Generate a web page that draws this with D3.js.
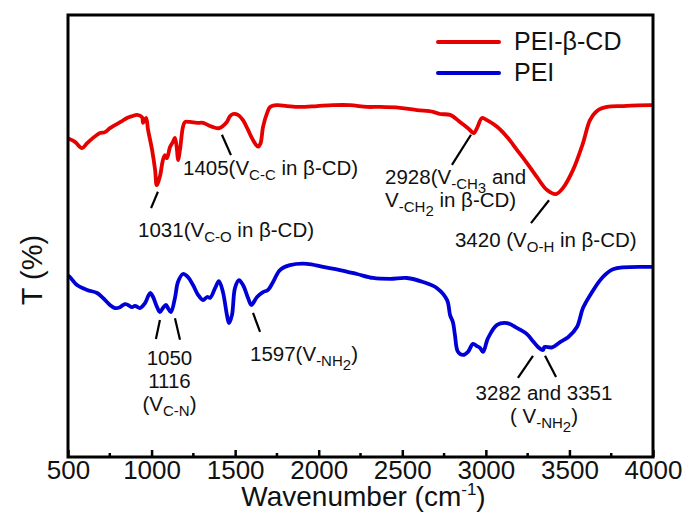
<!DOCTYPE html>
<html>
<head>
<meta charset="utf-8">
<script src="https://cdn.jsdelivr.net/npm/d3@7"></script>
<style>
  html, body { margin: 0; padding: 0; background: #fff; }
  svg text { font-family: "Liberation Sans", Arial, sans-serif; fill: #111; }
</style>
</head>
<body>
<svg id="chart" width="686" height="522"></svg>
<script>
// FTIR spectra: transmittance (arbitrary %, curves offset) vs wavenumber
const seriesNames = ["PEI-β-CD", "PEI"];
const seriesColors = ["#e60000", "#0000d6"];

const peiCdWavenumber = [500, 512, 542, 584, 614, 650, 691, 721, 751, 781, 823, 853, 883, 913, 943, 949, 967, 979, 1003, 1021, 1031, 1050, 1068, 1080, 1092, 1110, 1128, 1140, 1152, 1158, 1170, 1188, 1200, 1230, 1272, 1308, 1350, 1391, 1405, 1427, 1451, 1469, 1487, 1517, 1547, 1577, 1607, 1637, 1652, 1667, 1691, 1709, 1750, 1810, 1888, 1990, 2085, 2187, 2289, 2367, 2486, 2588, 2684, 2726, 2786, 2845, 2893, 2928, 2947, 2977, 3007, 3067, 3127, 3186, 3246, 3306, 3366, 3420, 3462, 3521, 3581, 3623, 3665, 3725, 3821, 3982, 4000];
const peiCdT = [72.0, 71.9, 71.3, 69.9, 71.0, 72.2, 73.3, 73.5, 74.4, 75.1, 76.0, 76.7, 77.1, 77.4, 76.9, 75.6, 76.7, 74.0, 69.5, 65.0, 61.5, 63.5, 67.2, 68.3, 67.6, 70.1, 71.3, 72.2, 69.5, 67.2, 69.5, 74.7, 75.8, 75.8, 75.6, 75.6, 74.9, 74.4, 74.4, 74.9, 75.8, 77.1, 77.6, 77.4, 76.2, 74.0, 71.7, 70.2, 71.0, 74.7, 77.8, 79.2, 79.6, 79.4, 79.2, 79.4, 79.6, 79.6, 79.2, 79.2, 79.0, 78.5, 78.1, 77.6, 77.4, 75.8, 74.4, 73.3, 74.4, 76.7, 76.2, 74.7, 72.4, 69.5, 66.5, 63.3, 60.4, 59.5, 60.9, 64.9, 71.0, 76.2, 78.3, 79.2, 79.4, 79.6, 79.6];

const peiWavenumber = [500, 512, 554, 614, 674, 709, 751, 781, 811, 841, 859, 883, 901, 931, 961, 991, 1009, 1033, 1050, 1068, 1086, 1098, 1116, 1140, 1158, 1188, 1218, 1248, 1278, 1308, 1332, 1350, 1380, 1403, 1427, 1451, 1463, 1481, 1499, 1523, 1547, 1577, 1597, 1631, 1667, 1697, 1727, 1768, 1828, 1930, 2026, 2127, 2229, 2325, 2427, 2528, 2624, 2708, 2768, 2786, 2803, 2815, 2833, 2863, 2893, 2923, 2947, 2965, 2983, 3013, 3067, 3127, 3186, 3246, 3282, 3312, 3342, 3351, 3396, 3444, 3492, 3545, 3581, 3635, 3695, 3761, 3982, 4000];
const peiT = [41.0, 40.7, 38.9, 37.8, 37.1, 36.0, 34.4, 33.7, 33.9, 34.6, 34.4, 33.9, 34.2, 33.7, 34.8, 37.1, 36.2, 33.9, 32.8, 33.7, 34.4, 33.7, 32.8, 36.0, 39.6, 41.4, 40.7, 38.9, 36.7, 35.5, 36.2, 36.0, 38.2, 39.8, 37.3, 32.1, 30.3, 32.1, 38.2, 40.0, 38.9, 36.0, 34.4, 36.2, 37.3, 37.8, 39.6, 42.3, 43.4, 43.7, 43.0, 42.3, 41.4, 40.5, 40.3, 40.5, 39.6, 38.2, 35.5, 32.1, 30.5, 27.6, 23.8, 23.1, 23.8, 25.6, 25.1, 24.7, 23.8, 26.9, 29.9, 30.3, 29.2, 27.8, 26.2, 24.9, 24.2, 24.9, 24.8, 26.0, 27.1, 29.4, 33.7, 37.3, 40.5, 42.5, 43.0, 43.0];

const xTickValues = [500, 1000, 1500, 2000, 2500, 3000, 3500, 4000];
const xMinorTickValues = [750, 1250, 1750, 2250, 2750, 3250, 3750];

// Peak assignments: leader line (wavenumber, T) pairs and label lines
const annotations = [
  { line: [[1038, 60.0], [997, 56.3]], anchor: "start", at: [919, 49.8],
    rows: [[["1031(V"], ["C-O", 1], [" in β-CD)"]]] },
  { line: [[1421, 72.9], [1475, 68.3]], anchor: "start", at: [1188, 63.8],
    rows: [[["1405(V"], ["C-C", 1], [" in β-CD)"]]] },
  { line: [[2911, 72.9], [2797, 66.1]], anchor: "start", at: [2397, 61.8],
    rows: [[["2928(V"], ["-CH", 1], ["3", 2], [" and"]],
           [["V"], ["-CH", 1], ["2", 2], [" in β-CD)"]]] },
  { line: [[3378, 58.1], [3270, 52.9]], anchor: "start", at: [2815, 47.5],
    rows: [[["3420 (V"], ["O-H", 1], [" in β-CD)"]]] },
  { line: [[1050, 31.0], [1026, 26.7]], anchor: "middle", at: [1107, 20.8],
    rows: [[["1050"]], [["1116"]], [["(V"], ["C-N", 1], [")"]]] },
  { line: [[1140, 31.4], [1170, 26.5]] },
  { line: [[1607, 32.6], [1649, 28.3]], anchor: "start", at: [1589, 21.7],
    rows: [[["1597(V"], ["-NH", 1], ["2", 2], [")"]]] },
  { line: [[3282, 22.9], [3192, 17.9]], anchor: "middle", at: [3348, 12.9],
    rows: [[["3282 and 3351"]], [["( V"], ["-NH", 1], ["2", 2], [")"]]] },
  { line: [[3354, 22.9], [3420, 18.1]] }
];

const svg = d3.select("#chart");
const margin = { left: 68, right: 33, top: 15, bottom: 65 };
const W = 686, H = 522;

const x = d3.scaleLinear().domain([500, 4000]).range([margin.left, W - margin.right]);
const y = d3.scaleLinear().domain([0, 100]).range([H - margin.bottom, margin.top]);

const line = d3.line()
  .x(d => x(d[0]))
  .y(d => y(d[1]))
  .curve(d3.curveCatmullRom.alpha(0.5));

svg.append("clipPath").attr("id", "plotclip")
  .append("rect")
  .attr("x", margin.left).attr("y", margin.top)
  .attr("width", W - margin.left - margin.right)
  .attr("height", H - margin.top - margin.bottom);

const series = [
  d3.zip(peiCdWavenumber, peiCdT),
  d3.zip(peiWavenumber, peiT)
];

svg.append("g").attr("clip-path", "url(#plotclip)")
  .selectAll("path")
  .data(series)
  .join("path")
  .attr("d", line)
  .attr("fill", "none")
  .attr("stroke", (d, i) => seriesColors[i])
  .attr("stroke-width", 3.8)
  .attr("stroke-linejoin", "round")
  .attr("stroke-linecap", "round");

// Frame
svg.append("rect")
  .attr("x", margin.left).attr("y", margin.top)
  .attr("width", W - margin.left - margin.right)
  .attr("height", H - margin.top - margin.bottom)
  .attr("fill", "none").attr("stroke", "#000").attr("stroke-width", 3);

// Bottom axis: inward ticks
const xAxis = d3.axisBottom(x).tickValues(xTickValues).tickSize(-7).tickPadding(4)
  .tickFormat(d3.format("d"));
const gx = svg.append("g").attr("transform", `translate(0,${y(0)})`).call(xAxis);
gx.select(".domain").remove();
gx.selectAll(".tick line").attr("stroke", "#000").attr("stroke-width", 2.5);
gx.selectAll(".tick text").attr("font-size", 26).attr("fill", "#111")
  .style("font-family", "'Liberation Sans', Arial, sans-serif");

svg.append("g").selectAll("line")
  .data(xMinorTickValues)
  .join("line")
  .attr("x1", d => x(d)).attr("x2", d => x(d))
  .attr("y1", y(0)).attr("y2", y(0) - 4)
  .attr("stroke", "#000").attr("stroke-width", 2.5);

// Axis titles
const xt = svg.append("text")
  .attr("x", (margin.left + W - margin.right) / 2 + 3).attr("y", 506)
  .attr("text-anchor", "middle").attr("font-size", 28);
xt.append("tspan").text("Wavenumber (cm");
xt.append("tspan").attr("dy", -11).attr("font-size", 17).text("-1");
xt.append("tspan").attr("dy", 11).text(")");

svg.append("text")
  .attr("transform", `translate(42,${(margin.top + H - margin.bottom) / 2 + 34}) rotate(-90)`)
  .attr("text-anchor", "middle").attr("font-size", 29)
  .text("T (%)");

// Legend
const legend = svg.append("g");
seriesNames.forEach((name, i) => {
  const ly = 42 + i * 31;
  legend.append("line")
    .attr("x1", 438).attr("x2", 499).attr("y1", ly).attr("y2", ly)
    .attr("stroke", seriesColors[i]).attr("stroke-width", 4).attr("stroke-linecap", "round");
  legend.append("text").attr("x", 514).attr("y", ly + 8)
    .attr("font-size", 25).text(name);
});

// Peak annotations
const ann = svg.append("g");
annotations.forEach(a => {
  ann.append("line")
    .attr("x1", x(a.line[0][0])).attr("y1", y(a.line[0][1]))
    .attr("x2", x(a.line[1][0])).attr("y2", y(a.line[1][1]))
    .attr("stroke", "#000").attr("stroke-width", 2.2);
  if (!a.rows) return;
  a.rows.forEach((row, r) => {
    const t = ann.append("text")
      .attr("x", x(a.at[0])).attr("y", y(a.at[1]) + r * 23)
      .attr("text-anchor", a.anchor).attr("font-size", 20);
    let level = 0;
    const shift = { 0: 0, 1: 5, 2: 9 };
    row.forEach(([str, lv]) => {
      lv = lv || 0;
      t.append("tspan")
        .attr("dy", shift[lv] - shift[level])
        .attr("font-size", lv === 0 ? 20.5 : 15)
        .text(str);
      level = lv;
    });
  });
});
</script>
</body>
</html>
